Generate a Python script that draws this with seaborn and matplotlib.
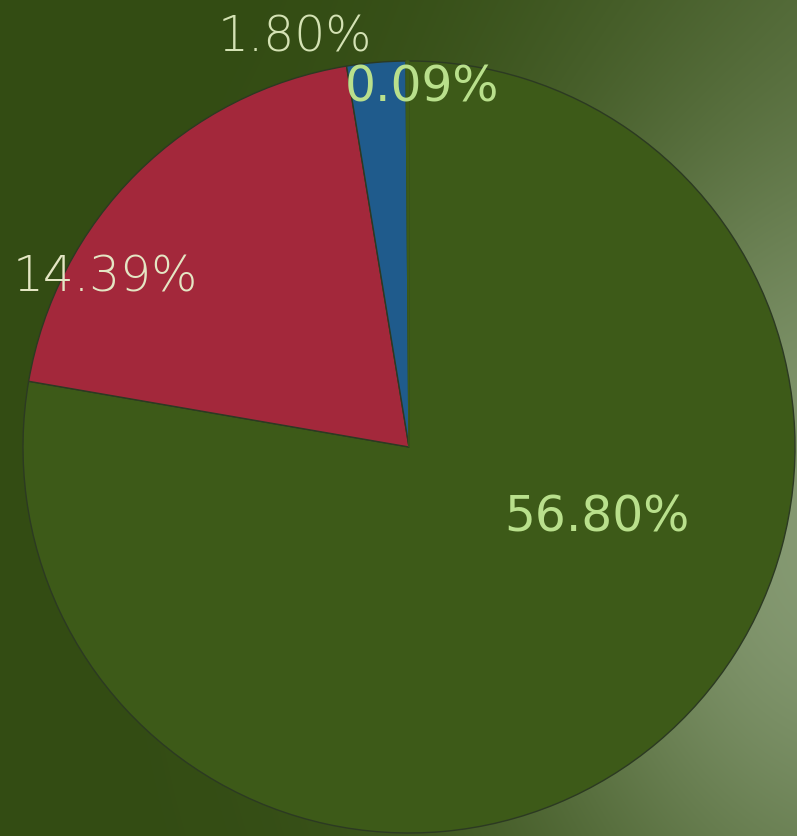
import matplotlib.pyplot as plt
import seaborn as sns
import numpy as np

# slice values (percent shares as printed on the chart)
values = [56.80, 14.39, 1.80, 0.09]
labels = ["56.80%", "14.39%", "1.80%", "0.09%"]
colors = ["#3d5a18", "#a3283b", "#1f5b8c", "#3d5a18"]
label_colors = ["#b9e08c", "#e4e6c4", "#d4e2b4", "#b9e08c"]
label_weights = ["normal", "light", "light", "normal"]

sns.set_theme(style="white")
plt.rcParams["font.family"] = ["DejaVu Sans"]

W, H = 797, 836
fig = plt.figure(figsize=(W / 100, H / 100), dpi=100)
ax = fig.add_axes([0, 0, 1, 1])

# background glow, lighter towards the right edge
yy, xx = np.mgrid[0:H, 0:W]
d = np.sqrt(((xx - 830) / 1.0) ** 2 + ((yy - 540) / 1.25) ** 2)
a = 0.9 * np.exp(-(d / 330) ** 2)
b = 0.25 * np.clip((xx - 250) / 550, 0, 1) ** 2
t = 1 - (1 - a) * (1 - b)
base = np.array([0x33, 0x4c, 0x13]) / 255
glow = np.array([0x8c, 0xa0, 0x7a]) / 255
img = base[None, None, :] * (1 - t[..., None]) + glow[None, None, :] * t[..., None]
ax.imshow(img, extent=[0, W, H, 0], zorder=0)

# pie drawn in screen-like coords (y inverted), so wedges run clockwise on screen
wedges, _ = ax.pie(
    values,
    colors=colors,
    startangle=-90,
    counterclock=True,
    center=(409, 447),
    radius=386,
    frame=True,
    wedgeprops=dict(edgecolor="#2c3a22", linewidth=1.0),
)
wedges[3].set_edgecolor(colors[3])
ax.set_xlim(0, W)
ax.set_ylim(H, 0)
ax.set_aspect("equal")
ax.axis("off")

# label anchor points in figure pixels
label_pos = [(597, 517), (105, 278), (295, 37), (422, 87)]
for txt, col, wt, (px, py) in zip(labels, label_colors, label_weights, label_pos):
    ax.text(px, py, txt, color=col, fontsize=35, fontweight=wt,
            ha="center", va="center", zorder=5)

plt.savefig("out.png", dpi=100)
